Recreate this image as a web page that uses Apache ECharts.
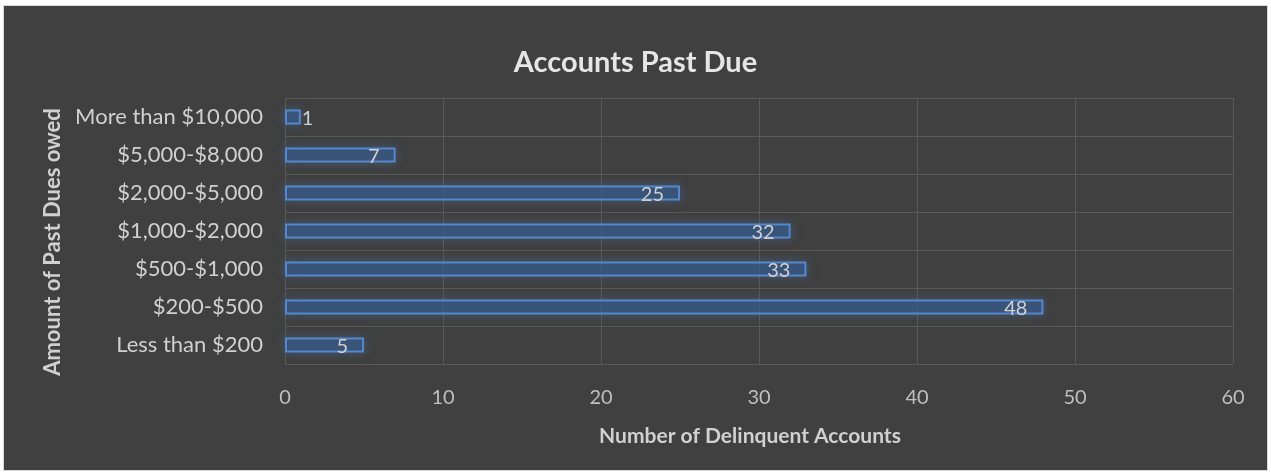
<!DOCTYPE html>
<html>
<head>
<meta charset="utf-8">
<script src="https://cdn.jsdelivr.net/npm/echarts@6/dist/echarts.min.js"></script>
<style>
  html, body { margin: 0; padding: 0; background: #ffffff; }
  #chart {
    position: absolute; left: 3px; top: 5px;
    width: 1263px; height: 464px;
    border: 1px solid #d9d9d9; background: #404040;
  }
</style>
</head>
<body>
<div id="chart"></div>
<script>
// data, bottom to top as drawn
const categories = ['Less than $200', '$200-$500', '$500-$1,000', '$1,000-$2,000', '$2,000-$5,000', '$5,000-$8,000', 'More than $10,000'];
const accounts = [5, 48, 33, 32, 25, 7, 1];
const xTicks = [0, 10, 20, 30, 40, 50, 60];

const font = 'Lato, "Open Sans", sans-serif';
const chart = echarts.init(document.getElementById('chart'));

chart.setOption({
  backgroundColor: '#404040',
  animation: false,
  title: {
    text: 'Accounts Past Due',
    left: 'center',
    top: 37,
    textStyle: { color: '#e6e6e6', fontFamily: font, fontSize: 29, fontWeight: 'bold' }
  },
  grid: { left: 281, top: 92, width: 948, height: 266 },
  xAxis: {
    type: 'value',
    min: xTicks[0],
    max: xTicks[xTicks.length - 1],
    interval: 10,
    name: 'Number of Delinquent Accounts',
    nameLocation: 'middle',
    nameGap: 62,
    nameTextStyle: { color: '#d0d0d0', fontFamily: font, fontSize: 21, fontWeight: 'bold', padding: [0, 18, 0, 0] },
    axisLine: { show: false },
    axisTick: { show: false },
    axisLabel: { color: '#bfbfbf', fontFamily: font, fontSize: 20, margin: 24 },
    splitLine: { lineStyle: { color: '#595959', width: 1 } }
  },
  yAxis: {
    type: 'category',
    data: categories,
    name: 'Amount of Past Dues owed',
    nameLocation: 'middle',
    nameRotate: 90,
    nameGap: 214,
    nameTextStyle: { color: '#d0d0d0', fontFamily: font, fontSize: 22, fontWeight: 'bold', padding: [0, 22, 0, 0] },
    axisLine: { show: false },
    axisTick: { show: false },
    axisLabel: { color: '#d0d0d0', fontFamily: font, fontSize: 22, margin: 22 },
    splitLine: { show: true, lineStyle: { color: '#595959', width: 1 } }
  },
  series: [{
    type: 'bar',
    barWidth: 15,
    data: accounts.map(v => ({
      value: v,
      label: v < 3 ? { position: 'right', distance: 1 } : {}
    })),
    itemStyle: {
      color: 'rgba(50, 82, 128, 0.6)',
      borderColor: '#5288cc',
      borderWidth: 2,
      shadowBlur: 10,
      shadowColor: 'rgba(79, 129, 199, 0.5)'
    },
    label: {
      show: true,
      position: 'insideRight',
      distance: 16,
      color: '#d0d0d0',
      fontFamily: font,
      fontSize: 20,
      offset: [0, 2]
    }
  }]
});
</script>
</body>
</html>
